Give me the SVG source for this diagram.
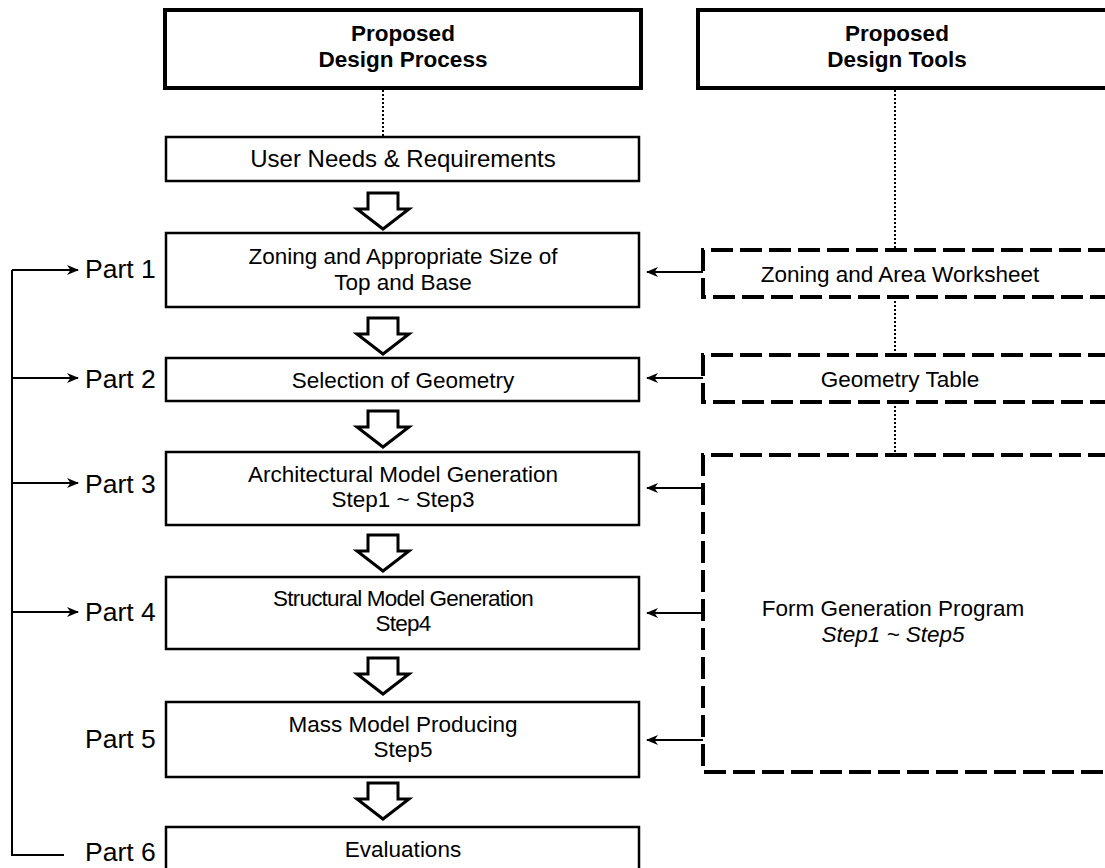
<svg xmlns="http://www.w3.org/2000/svg" xmlns:xlink="http://www.w3.org/1999/xlink" width="1105" height="868" viewBox="0 0 1105 868">
  <style>
    text { font-family: "Liberation Sans", Arial, Helvetica, sans-serif; fill: #000; }
    .head { font-size: 22.5px; font-weight: bold; text-anchor: middle; }
    .lbl { font-size: 22.5px; text-anchor: middle; }
    .part { font-size: 26.5px; }
    .it { font-style: italic; }
    .narrow { letter-spacing: -0.8px; }
    .box { fill: #fff; stroke: #000; stroke-width: 2.5; }
    .hbox { fill: #fff; stroke: #000; stroke-width: 4; }
    .dbox { fill: none; stroke: #000; stroke-width: 4; stroke-dasharray: 22 7; }
    .dot { fill: none; stroke: #000; stroke-width: 2; stroke-dasharray: 2 2; }
    .wire { fill: none; stroke: #000; stroke-width: 2; }
    .hollow { fill: #fff; stroke: #000; stroke-width: 3; stroke-linejoin: miter; }
  </style>
  <defs>
    <marker id="tip" viewBox="0 0 12 10" refX="11" refY="5" markerWidth="6" markerHeight="5" orient="auto" markerUnits="strokeWidth">
      <path d="M0,0 L12,5 L0,10 L3.5,5 Z" fill="#000"/>
    </marker>
    <!-- hollow block arrow between process steps -->
    <path id="down" class="hollow" d="M-15,0 H15 V16 H26 L0,36 L-26,16 H-15 Z"/>
  </defs>

  <rect width="1105" height="868" fill="#fff"/>

  <!-- column headers -->
  <g id="hdr-process">
    <rect class="hbox" x="165" y="10" width="476" height="78"/>
    <text class="head" x="403" y="41">Proposed</text>
    <text class="head" x="403" y="67">Design Process</text>
  </g>
  <g id="hdr-tools">
    <rect class="hbox" x="698" y="10" width="420" height="78"/>
    <text class="head" x="897" y="41">Proposed</text>
    <text class="head" x="897" y="67">Design Tools</text>
  </g>

  <!-- process column -->
  <g id="needs">
    <rect class="box" x="166" y="137" width="473" height="44"/>
    <text class="lbl" x="403" y="167" style="font-size:24px">User Needs &amp; Requirements</text>
  </g>
  <g id="step1">
    <rect class="box" x="166" y="233" width="473" height="74"/>
    <text class="lbl" x="403" y="264">Zoning and Appropriate Size of</text>
    <text class="lbl" x="403" y="290">Top and Base</text>
  </g>
  <g id="step2">
    <rect class="box" x="166" y="358" width="473" height="43"/>
    <text class="lbl" x="403" y="388">Selection of Geometry</text>
  </g>
  <g id="step3">
    <rect class="box" x="166" y="452" width="473" height="73"/>
    <text class="lbl" x="403" y="482">Architectural Model Generation</text>
    <text class="lbl" x="403" y="507">Step1 ~ Step3</text>
  </g>
  <g id="step4">
    <rect class="box" x="166" y="577" width="473" height="72"/>
    <text class="lbl narrow" x="403" y="606">Structural Model Generation</text>
    <text class="lbl narrow" x="403" y="631">Step4</text>
  </g>
  <g id="step5">
    <rect class="box" x="166" y="702" width="473" height="75"/>
    <text class="lbl" x="403" y="732">Mass Model Producing</text>
    <text class="lbl" x="403" y="757">Step5</text>
  </g>
  <g id="step6">
    <rect class="box" x="166" y="827" width="473" height="50"/>
    <text class="lbl" x="403" y="857">Evaluations</text>
  </g>

  <!-- part labels -->
  <g id="parts">
    <text class="part" x="85" y="278">Part 1</text>
    <text class="part" x="85" y="388">Part 2</text>
    <text class="part" x="85" y="493">Part 3</text>
    <text class="part" x="85" y="621">Part 4</text>
    <text class="part" x="85" y="748">Part 5</text>
    <text class="part" x="85" y="861">Part 6</text>
  </g>

  <!-- tool column -->
  <g id="tool-worksheet">
    <path class="dbox" d="M1110,250 H703 V297 H1110"/>
    <text class="lbl" x="900" y="282">Zoning and Area Worksheet</text>
  </g>
  <g id="tool-geometry">
    <path class="dbox" d="M1110,355 H703 V402 H1110"/>
    <text class="lbl" x="900" y="387">Geometry Table</text>
  </g>
  <g id="tool-form">
    <path class="dbox" d="M1110,455 H703 V772 H1110"/>
    <text class="lbl" x="893" y="616">Form Generation Program</text>
    <text class="lbl it" x="893" y="642">Step1 ~ Step5</text>
  </g>

  <!-- connectors -->
  <g id="connectors">
    <!-- dotted header links -->
    <line class="dot" x1="383" y1="90" x2="383" y2="137"/>
    <line class="dot" x1="895" y1="90" x2="895" y2="250"/>
    <line class="dot" x1="895" y1="297" x2="895" y2="355"/>
    <line class="dot" x1="895" y1="402" x2="895" y2="455"/>

    <!-- flow between steps -->
    <use xlink:href="#down" x="383" y="193"/>
    <use xlink:href="#down" x="383" y="318"/>
    <use xlink:href="#down" x="383" y="411"/>
    <use xlink:href="#down" x="383" y="535"/>
    <use xlink:href="#down" x="383" y="658"/>
    <use xlink:href="#down" x="383" y="783"/>

    <!-- feedback loop from evaluation -->
    <path class="wire" d="M64,855 H12 V270"/>
    <line class="wire" x1="12" y1="270" x2="78" y2="270" marker-end="url(#tip)"/>
    <line class="wire" x1="12" y1="378" x2="78" y2="378" marker-end="url(#tip)"/>
    <line class="wire" x1="12" y1="483" x2="78" y2="483" marker-end="url(#tip)"/>
    <line class="wire" x1="12" y1="612" x2="78" y2="612" marker-end="url(#tip)"/>

    <!-- tools feeding steps -->
    <line class="wire" x1="703" y1="272" x2="647" y2="272" marker-end="url(#tip)"/>
    <line class="wire" x1="703" y1="378" x2="647" y2="378" marker-end="url(#tip)"/>
    <line class="wire" x1="703" y1="488" x2="647" y2="488" marker-end="url(#tip)"/>
    <line class="wire" x1="703" y1="613" x2="647" y2="613" marker-end="url(#tip)"/>
    <line class="wire" x1="703" y1="740" x2="647" y2="740" marker-end="url(#tip)"/>
  </g>
</svg>
